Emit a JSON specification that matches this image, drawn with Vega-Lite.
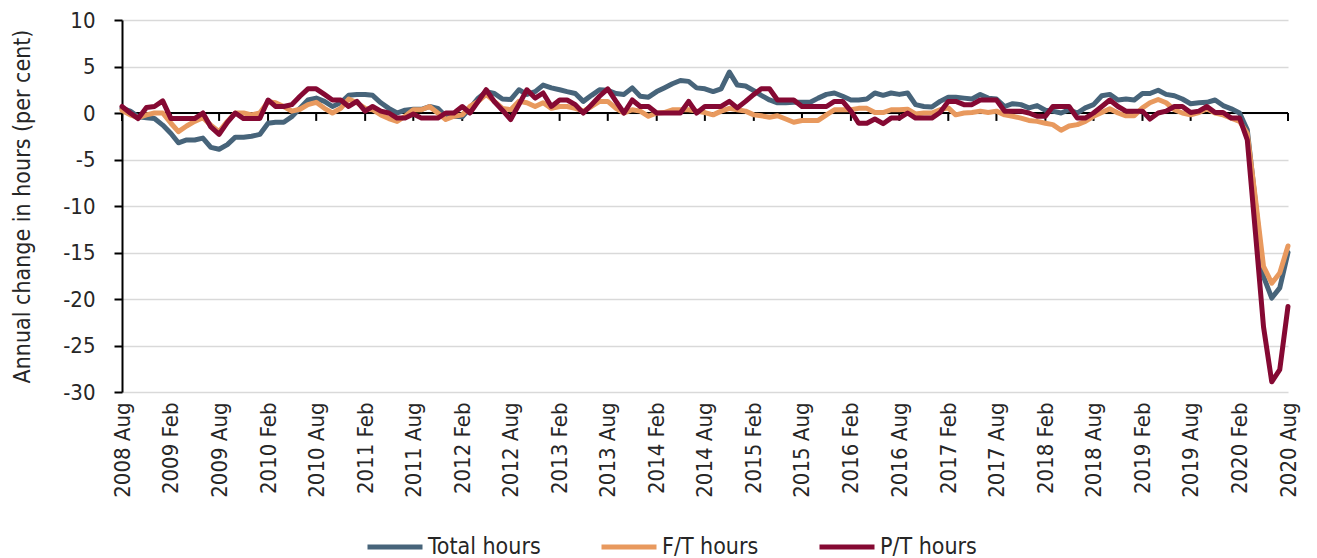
{
 "$schema": "https://vega.github.io/schema/vega-lite/v6.json",
 "width": 1166,
 "height": 372,
 "autosize": {"type": "none"},
 "padding": {"left": 122, "top": 20, "right": 29, "bottom": 166},
 "background": "white",
 "config": {"font": "Liberation Sans Narrow, DejaVu Sans Condensed, Roboto, sans-serif", "view": {"stroke": null}},
 "resolve": {"axis": {"x": "independent", "y": "independent"}},
 "data": {"values": [
{"d":"2008-08-01","Total hours":0.5,"F/T hours":0.3,"P/T hours":0.7},
{"d":"2008-09-01","Total hours":0.2,"F/T hours":-0.2,"P/T hours":0.0},
{"d":"2008-10-01","Total hours":-0.4,"F/T hours":-0.5,"P/T hours":-0.6},
{"d":"2008-11-01","Total hours":-0.5,"F/T hours":-0.2,"P/T hours":0.6},
{"d":"2008-12-01","Total hours":-0.6,"F/T hours":0.0,"P/T hours":0.7},
{"d":"2009-01-01","Total hours":-1.3,"F/T hours":0.0,"P/T hours":1.3},
{"d":"2009-02-01","Total hours":-2.2,"F/T hours":-1.1,"P/T hours":-0.6},
{"d":"2009-03-01","Total hours":-3.2,"F/T hours":-2.0,"P/T hours":-0.6},
{"d":"2009-04-01","Total hours":-2.9,"F/T hours":-1.4,"P/T hours":-0.6},
{"d":"2009-05-01","Total hours":-2.9,"F/T hours":-0.9,"P/T hours":-0.6},
{"d":"2009-06-01","Total hours":-2.7,"F/T hours":-0.5,"P/T hours":0.0},
{"d":"2009-07-01","Total hours":-3.7,"F/T hours":-1.3,"P/T hours":-1.5},
{"d":"2009-08-01","Total hours":-3.9,"F/T hours":-2.0,"P/T hours":-2.3},
{"d":"2009-09-01","Total hours":-3.4,"F/T hours":-0.9,"P/T hours":-1.0},
{"d":"2009-10-01","Total hours":-2.6,"F/T hours":0.0,"P/T hours":0.0},
{"d":"2009-11-01","Total hours":-2.6,"F/T hours":0.0,"P/T hours":-0.6},
{"d":"2009-12-01","Total hours":-2.5,"F/T hours":-0.2,"P/T hours":-0.6},
{"d":"2010-01-01","Total hours":-2.3,"F/T hours":0.0,"P/T hours":-0.6},
{"d":"2010-02-01","Total hours":-1.1,"F/T hours":1.2,"P/T hours":1.4},
{"d":"2010-03-01","Total hours":-1.0,"F/T hours":1.1,"P/T hours":0.7},
{"d":"2010-04-01","Total hours":-1.0,"F/T hours":0.7,"P/T hours":0.7},
{"d":"2010-05-01","Total hours":-0.4,"F/T hours":0.2,"P/T hours":0.9},
{"d":"2010-06-01","Total hours":0.5,"F/T hours":0.4,"P/T hours":1.8},
{"d":"2010-07-01","Total hours":1.4,"F/T hours":0.9,"P/T hours":2.6},
{"d":"2010-08-01","Total hours":1.6,"F/T hours":1.15,"P/T hours":2.6},
{"d":"2010-09-01","Total hours":1.25,"F/T hours":0.5,"P/T hours":2.0},
{"d":"2010-10-01","Total hours":0.7,"F/T hours":0.0,"P/T hours":1.4},
{"d":"2010-11-01","Total hours":1.1,"F/T hours":0.5,"P/T hours":1.4},
{"d":"2010-12-01","Total hours":1.9,"F/T hours":1.5,"P/T hours":0.7},
{"d":"2011-01-01","Total hours":2.0,"F/T hours":1.1,"P/T hours":1.25},
{"d":"2011-02-01","Total hours":2.0,"F/T hours":0.5,"P/T hours":0.2},
{"d":"2011-03-01","Total hours":1.9,"F/T hours":0.35,"P/T hours":0.7},
{"d":"2011-04-01","Total hours":1.1,"F/T hours":-0.2,"P/T hours":0.2},
{"d":"2011-05-01","Total hours":0.5,"F/T hours":-0.6,"P/T hours":0.0},
{"d":"2011-06-01","Total hours":0.0,"F/T hours":-0.9,"P/T hours":-0.55},
{"d":"2011-07-01","Total hours":0.3,"F/T hours":-0.35,"P/T hours":-0.55},
{"d":"2011-08-01","Total hours":0.4,"F/T hours":0.35,"P/T hours":-0.1},
{"d":"2011-09-01","Total hours":0.4,"F/T hours":0.35,"P/T hours":-0.55},
{"d":"2011-10-01","Total hours":0.7,"F/T hours":0.7,"P/T hours":-0.55},
{"d":"2011-11-01","Total hours":0.5,"F/T hours":0.0,"P/T hours":-0.55},
{"d":"2011-12-01","Total hours":-0.35,"F/T hours":-0.7,"P/T hours":0.0},
{"d":"2012-01-01","Total hours":-0.35,"F/T hours":-0.35,"P/T hours":0.0},
{"d":"2012-02-01","Total hours":-0.4,"F/T hours":-0.2,"P/T hours":0.7},
{"d":"2012-03-01","Total hours":0.5,"F/T hours":0.7,"P/T hours":0.0},
{"d":"2012-04-01","Total hours":1.6,"F/T hours":1.25,"P/T hours":1.25},
{"d":"2012-05-01","Total hours":2.3,"F/T hours":2.0,"P/T hours":2.5},
{"d":"2012-06-01","Total hours":2.1,"F/T hours":1.25,"P/T hours":1.2},
{"d":"2012-07-01","Total hours":1.5,"F/T hours":0.5,"P/T hours":0.3},
{"d":"2012-08-01","Total hours":1.45,"F/T hours":0.35,"P/T hours":-0.7},
{"d":"2012-09-01","Total hours":2.5,"F/T hours":1.25,"P/T hours":0.9},
{"d":"2012-10-01","Total hours":2.0,"F/T hours":1.1,"P/T hours":2.5},
{"d":"2012-11-01","Total hours":2.3,"F/T hours":0.7,"P/T hours":1.6},
{"d":"2012-12-01","Total hours":3.0,"F/T hours":1.1,"P/T hours":2.15},
{"d":"2013-01-01","Total hours":2.7,"F/T hours":0.5,"P/T hours":0.7},
{"d":"2013-02-01","Total hours":2.5,"F/T hours":0.7,"P/T hours":1.4},
{"d":"2013-03-01","Total hours":2.3,"F/T hours":0.7,"P/T hours":1.4},
{"d":"2013-04-01","Total hours":2.1,"F/T hours":0.5,"P/T hours":0.9},
{"d":"2013-05-01","Total hours":1.25,"F/T hours":0.2,"P/T hours":0.0},
{"d":"2013-06-01","Total hours":1.9,"F/T hours":0.7,"P/T hours":0.9},
{"d":"2013-07-01","Total hours":2.5,"F/T hours":1.25,"P/T hours":1.8},
{"d":"2013-08-01","Total hours":2.45,"F/T hours":1.25,"P/T hours":2.6},
{"d":"2013-09-01","Total hours":2.1,"F/T hours":0.5,"P/T hours":1.25},
{"d":"2013-10-01","Total hours":2.0,"F/T hours":0.0,"P/T hours":0.0},
{"d":"2013-11-01","Total hours":2.7,"F/T hours":0.35,"P/T hours":1.4},
{"d":"2013-12-01","Total hours":1.8,"F/T hours":0.2,"P/T hours":0.7},
{"d":"2014-01-01","Total hours":1.7,"F/T hours":-0.35,"P/T hours":0.7},
{"d":"2014-02-01","Total hours":2.3,"F/T hours":0.0,"P/T hours":0.0},
{"d":"2014-03-01","Total hours":2.7,"F/T hours":0.05,"P/T hours":0.0},
{"d":"2014-04-01","Total hours":3.15,"F/T hours":0.35,"P/T hours":0.0},
{"d":"2014-05-01","Total hours":3.5,"F/T hours":0.35,"P/T hours":0.0},
{"d":"2014-06-01","Total hours":3.4,"F/T hours":0.35,"P/T hours":1.25},
{"d":"2014-07-01","Total hours":2.7,"F/T hours":0.2,"P/T hours":0.0},
{"d":"2014-08-01","Total hours":2.6,"F/T hours":0.05,"P/T hours":0.7},
{"d":"2014-09-01","Total hours":2.3,"F/T hours":-0.2,"P/T hours":0.7},
{"d":"2014-10-01","Total hours":2.6,"F/T hours":0.2,"P/T hours":0.7},
{"d":"2014-11-01","Total hours":4.4,"F/T hours":0.5,"P/T hours":1.25},
{"d":"2014-12-01","Total hours":3.0,"F/T hours":0.35,"P/T hours":0.55},
{"d":"2015-01-01","Total hours":2.9,"F/T hours":0.2,"P/T hours":1.25},
{"d":"2015-02-01","Total hours":2.4,"F/T hours":-0.2,"P/T hours":2.0},
{"d":"2015-03-01","Total hours":1.9,"F/T hours":-0.3,"P/T hours":2.6},
{"d":"2015-04-01","Total hours":1.4,"F/T hours":-0.45,"P/T hours":2.6},
{"d":"2015-05-01","Total hours":1.1,"F/T hours":-0.3,"P/T hours":1.4},
{"d":"2015-06-01","Total hours":1.1,"F/T hours":-0.65,"P/T hours":1.4},
{"d":"2015-07-01","Total hours":1.15,"F/T hours":-1.0,"P/T hours":1.4},
{"d":"2015-08-01","Total hours":1.15,"F/T hours":-0.8,"P/T hours":0.7},
{"d":"2015-09-01","Total hours":1.15,"F/T hours":-0.8,"P/T hours":0.7},
{"d":"2015-10-01","Total hours":1.6,"F/T hours":-0.8,"P/T hours":0.7},
{"d":"2015-11-01","Total hours":2.0,"F/T hours":-0.2,"P/T hours":0.7},
{"d":"2015-12-01","Total hours":2.15,"F/T hours":0.35,"P/T hours":1.25},
{"d":"2016-01-01","Total hours":1.8,"F/T hours":0.35,"P/T hours":1.25},
{"d":"2016-02-01","Total hours":1.4,"F/T hours":0.35,"P/T hours":0.2},
{"d":"2016-03-01","Total hours":1.4,"F/T hours":0.5,"P/T hours":-1.1},
{"d":"2016-04-01","Total hours":1.5,"F/T hours":0.5,"P/T hours":-1.1},
{"d":"2016-05-01","Total hours":2.15,"F/T hours":0.05,"P/T hours":-0.65},
{"d":"2016-06-01","Total hours":1.9,"F/T hours":0.05,"P/T hours":-1.15},
{"d":"2016-07-01","Total hours":2.15,"F/T hours":0.35,"P/T hours":-0.55},
{"d":"2016-08-01","Total hours":2.0,"F/T hours":0.35,"P/T hours":-0.55},
{"d":"2016-09-01","Total hours":2.15,"F/T hours":0.4,"P/T hours":0.0},
{"d":"2016-10-01","Total hours":0.9,"F/T hours":-0.1,"P/T hours":-0.55},
{"d":"2016-11-01","Total hours":0.7,"F/T hours":0.0,"P/T hours":-0.55},
{"d":"2016-12-01","Total hours":0.65,"F/T hours":0.0,"P/T hours":-0.55},
{"d":"2017-01-01","Total hours":1.25,"F/T hours":0.35,"P/T hours":0.05},
{"d":"2017-02-01","Total hours":1.7,"F/T hours":0.55,"P/T hours":1.25},
{"d":"2017-03-01","Total hours":1.7,"F/T hours":-0.2,"P/T hours":1.25},
{"d":"2017-04-01","Total hours":1.6,"F/T hours":0.0,"P/T hours":0.9},
{"d":"2017-05-01","Total hours":1.5,"F/T hours":0.05,"P/T hours":0.9},
{"d":"2017-06-01","Total hours":2.0,"F/T hours":0.2,"P/T hours":1.4},
{"d":"2017-07-01","Total hours":1.6,"F/T hours":0.05,"P/T hours":1.4},
{"d":"2017-08-01","Total hours":1.5,"F/T hours":0.2,"P/T hours":1.4},
{"d":"2017-09-01","Total hours":0.7,"F/T hours":-0.2,"P/T hours":0.2},
{"d":"2017-10-01","Total hours":1.0,"F/T hours":-0.35,"P/T hours":0.2},
{"d":"2017-11-01","Total hours":0.9,"F/T hours":-0.55,"P/T hours":0.2},
{"d":"2017-12-01","Total hours":0.55,"F/T hours":-0.8,"P/T hours":0.0},
{"d":"2018-01-01","Total hours":0.8,"F/T hours":-0.9,"P/T hours":-0.35},
{"d":"2018-02-01","Total hours":0.3,"F/T hours":-1.1,"P/T hours":-0.35},
{"d":"2018-03-01","Total hours":0.2,"F/T hours":-1.25,"P/T hours":0.7},
{"d":"2018-04-01","Total hours":0.0,"F/T hours":-1.85,"P/T hours":0.7},
{"d":"2018-05-01","Total hours":0.35,"F/T hours":-1.4,"P/T hours":0.7},
{"d":"2018-06-01","Total hours":0.0,"F/T hours":-1.25,"P/T hours":-0.55},
{"d":"2018-07-01","Total hours":0.55,"F/T hours":-0.9,"P/T hours":-0.55},
{"d":"2018-08-01","Total hours":0.9,"F/T hours":-0.35,"P/T hours":0.0},
{"d":"2018-09-01","Total hours":1.85,"F/T hours":0.05,"P/T hours":0.7},
{"d":"2018-10-01","Total hours":2.0,"F/T hours":0.45,"P/T hours":1.4},
{"d":"2018-11-01","Total hours":1.4,"F/T hours":0.0,"P/T hours":0.7},
{"d":"2018-12-01","Total hours":1.5,"F/T hours":-0.3,"P/T hours":0.2},
{"d":"2019-01-01","Total hours":1.4,"F/T hours":-0.3,"P/T hours":0.2},
{"d":"2019-02-01","Total hours":2.1,"F/T hours":0.55,"P/T hours":0.2},
{"d":"2019-03-01","Total hours":2.1,"F/T hours":1.1,"P/T hours":-0.65},
{"d":"2019-04-01","Total hours":2.45,"F/T hours":1.45,"P/T hours":0.0},
{"d":"2019-05-01","Total hours":2.0,"F/T hours":1.1,"P/T hours":0.2},
{"d":"2019-06-01","Total hours":1.85,"F/T hours":0.35,"P/T hours":0.7},
{"d":"2019-07-01","Total hours":1.5,"F/T hours":0.0,"P/T hours":0.7},
{"d":"2019-08-01","Total hours":1.0,"F/T hours":-0.2,"P/T hours":0.05},
{"d":"2019-09-01","Total hours":1.1,"F/T hours":0.05,"P/T hours":0.2},
{"d":"2019-10-01","Total hours":1.15,"F/T hours":0.45,"P/T hours":0.7},
{"d":"2019-11-01","Total hours":1.4,"F/T hours":0.0,"P/T hours":0.05},
{"d":"2019-12-01","Total hours":0.8,"F/T hours":-0.2,"P/T hours":0.05},
{"d":"2020-01-01","Total hours":0.45,"F/T hours":-0.55,"P/T hours":-0.55},
{"d":"2020-02-01","Total hours":0.0,"F/T hours":-0.9,"P/T hours":-0.55},
{"d":"2020-03-01","Total hours":-1.8,"F/T hours":-2.2,"P/T hours":-2.9},
{"d":"2020-04-01","Total hours":-9.7,"F/T hours":-9.3,"P/T hours":-13.0},
{"d":"2020-05-01","Total hours":-17.6,"F/T hours":-16.5,"P/T hours":-23.0},
{"d":"2020-06-01","Total hours":-19.9,"F/T hours":-18.3,"P/T hours":-28.9},
{"d":"2020-07-01","Total hours":-18.8,"F/T hours":-17.2,"P/T hours":-27.6},
{"d":"2020-08-01","Total hours":-15.0,"F/T hours":-14.3,"P/T hours":-20.8}
 ]},
 "layer": [
  {
   "data": {"values": [{"v": 0}]},
   "mark": {"type": "rule", "color": "#000000", "strokeWidth": 2},
   "encoding": {
    "y": {"field": "v", "type": "quantitative", "scale": {"domain": [-30, 10], "nice": false}, "axis": null}
   }
  },
  {
   "transform": [{"filter": "utcmonth(toDate(datum.d)) == 1 || utcmonth(toDate(datum.d)) == 7"}],
   "mark": {"type": "rule", "color": "#000000", "strokeWidth": 2},
   "encoding": {
    "x": {"field": "d", "type": "temporal", "scale": {"type": "utc", "nice": false, "domain": [{"year": 2008, "month": 8, "date": 1, "utc": true}, {"year": 2020, "month": 8, "date": 1, "utc": true}]}, "axis": null},
    "y": {"datum": 0, "type": "quantitative", "scale": {"domain": [-30, 10], "nice": false}, "axis": null},
    "y2": {"datum": -0.85}
   }
  },
  {
   "transform": [{"fold": ["Total hours", "F/T hours", "P/T hours"], "as": ["series", "value"]}],
   "mark": {"type": "line", "strokeWidth": 5, "strokeJoin": "round", "strokeCap": "round"},
   "encoding": {
    "x": {
     "field": "d", "type": "temporal",
     "scale": {"type": "utc", "nice": false, "domain": [{"year": 2008, "month": 8, "date": 1, "utc": true}, {"year": 2020, "month": 8, "date": 1, "utc": true}]},
     "axis": {
      "title": null,
      "values": [
       {"year": 2008, "month": 8, "date": 1, "utc": true},
       {"year": 2009, "month": 2, "date": 1, "utc": true},
       {"year": 2009, "month": 8, "date": 1, "utc": true},
       {"year": 2010, "month": 2, "date": 1, "utc": true},
       {"year": 2010, "month": 8, "date": 1, "utc": true},
       {"year": 2011, "month": 2, "date": 1, "utc": true},
       {"year": 2011, "month": 8, "date": 1, "utc": true},
       {"year": 2012, "month": 2, "date": 1, "utc": true},
       {"year": 2012, "month": 8, "date": 1, "utc": true},
       {"year": 2013, "month": 2, "date": 1, "utc": true},
       {"year": 2013, "month": 8, "date": 1, "utc": true},
       {"year": 2014, "month": 2, "date": 1, "utc": true},
       {"year": 2014, "month": 8, "date": 1, "utc": true},
       {"year": 2015, "month": 2, "date": 1, "utc": true},
       {"year": 2015, "month": 8, "date": 1, "utc": true},
       {"year": 2016, "month": 2, "date": 1, "utc": true},
       {"year": 2016, "month": 8, "date": 1, "utc": true},
       {"year": 2017, "month": 2, "date": 1, "utc": true},
       {"year": 2017, "month": 8, "date": 1, "utc": true},
       {"year": 2018, "month": 2, "date": 1, "utc": true},
       {"year": 2018, "month": 8, "date": 1, "utc": true},
       {"year": 2019, "month": 2, "date": 1, "utc": true},
       {"year": 2019, "month": 8, "date": 1, "utc": true},
       {"year": 2020, "month": 2, "date": 1, "utc": true},
       {"year": 2020, "month": 8, "date": 1, "utc": true}
      ],
      "labelExpr": "utcFormat(datum.value, '%Y %b')",
      "labelAngle": -90,
      "labelFontSize": 22,
      "labelColor": "#262626",
      "labelPadding": 10,
      "labelOverlap": false,
      "labelBound": false,
      "labelFlush": false,
      "ticks": false,
      "domain": false,
      "grid": false
     }
    },
    "y": {
     "field": "value", "type": "quantitative",
     "scale": {"domain": [-30, 10], "nice": false},
     "axis": {
      "title": "Annual change in hours (per cent)",
      "values": [-30, -25, -20, -15, -10, -5, 0, 5, 10],
      "labelExpr": "'' + datum.value",
      "grid": true, "gridColor": "#d9d9d9", "gridWidth": 1.5,
      "domainColor": "#000000", "domainWidth": 2,
      "tickColor": "#000000", "tickWidth": 2, "tickSize": 8,
      "labelFontSize": 22, "labelColor": "#262626", "labelPadding": 19,
      "titleFontSize": 23, "titleFontWeight": "normal", "titleColor": "#262626", "titlePadding": 28
     }
    },
    "color": {
     "field": "series", "type": "nominal",
     "scale": {"domain": ["Total hours", "F/T hours", "P/T hours"], "range": ["#47647A", "#E8995E", "#850933"]},
     "legend": {
      "title": null, "orient": "none", "legendX": 243, "legendY": 497,
      "direction": "horizontal", "symbolType": "stroke", "symbolSize": 3025, "symbolStrokeWidth": 5,
      "labelFontSize": 23, "labelColor": "#262626", "labelOffset": 3, "columnPadding": 50, "padding": 0
     }
    },
    "order": {"field": "d", "type": "temporal"}
   }
  }
 ]
}
